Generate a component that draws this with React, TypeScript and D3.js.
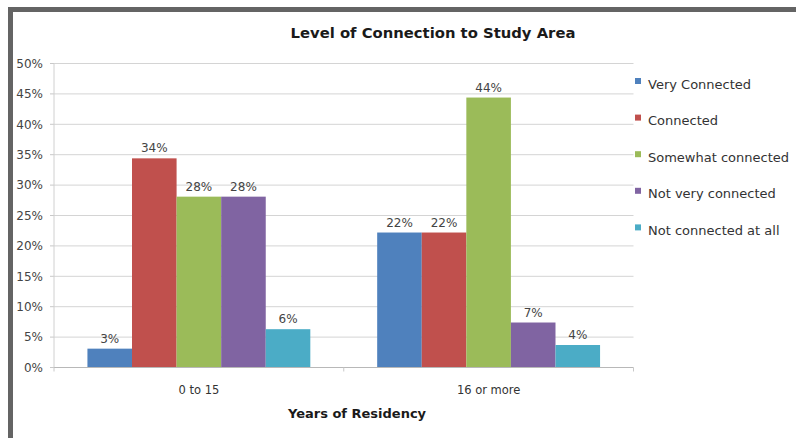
import React from "react";
import * as d3 from "d3";

const categories = ["0 to 15", "16 or more"];
const seriesNames = [
  "Very Connected",
  "Connected",
  "Somewhat connected",
  "Not very connected",
  "Not connected at all",
];
// share of respondents per series, one array per category
const values0to15 = [0.031, 0.344, 0.281, 0.281, 0.063];
const values16plus = [0.222, 0.222, 0.444, 0.074, 0.037];
const seriesColors = ["#4F81BD", "#C0504D", "#9BBB59", "#8064A2", "#4BACC6"];
const yTicks = [0, 0.05, 0.1, 0.15, 0.2, 0.25, 0.3, 0.35, 0.4, 0.45, 0.5];

const W = 796;
const H = 438;
const FONT = "'DejaVu Sans', sans-serif";

export default function App() {
  const table = [values0to15, values16plus];
  const plot = { left: 54, right: 633.5, top: 63.5, bottom: 367.5 };

  const x0 = d3
    .scaleBand<string>()
    .domain(categories)
    .range([plot.left, plot.right])
    .paddingInner(0)
    .paddingOuter(0);
  const x1 = d3
    .scaleBand<string>()
    .domain(seriesNames)
    .range([0, x0.bandwidth()])
    .paddingInner(0)
    .paddingOuter(0.75);
  const y = d3.scaleLinear().domain([0, 0.5]).range([plot.bottom, plot.top]);
  const pct = d3.format(".0%");

  const legendX = 635;
  const legendY0 = 84;
  const legendStep = 36.6;

  return (
    <svg
      width={W}
      height={H}
      style={{ position: "absolute", left: 0, top: 0, background: "#fff" }}
      fontFamily={FONT}
    >
      {/* frame */}
      <rect x={8} y={7} width={W - 8} height={5} fill="#646464" />
      <rect x={8} y={7} width={5} height={H - 7} fill="#646464" />

      <text
        x={433}
        y={38}
        textAnchor="middle"
        fontSize={14.8}
        fontWeight="bold"
        fill="#1a1a1a"
      >
        Level of Connection to Study Area
      </text>

      {/* gridlines and y axis */}
      {yTicks.map((t) => (
        <g key={t}>
          {t > 0 && (
            <line
              x1={plot.left}
              x2={plot.right}
              y1={y(t)}
              y2={y(t)}
              stroke="#d4d4d4"
              strokeWidth={1}
            />
          )}
          <line
            x1={plot.left - 4}
            x2={plot.left}
            y1={y(t)}
            y2={y(t)}
            stroke="#c8c8c8"
          />
          <text
            x={43}
            y={y(t)}
            dy="0.35em"
            textAnchor="end"
            fontSize={12}
            fill="#444"
          >
            {pct(t)}
          </text>
        </g>
      ))}
      <line
        x1={plot.left}
        x2={plot.left}
        y1={plot.top}
        y2={plot.bottom}
        stroke="#d0d0d0"
      />

      {/* bars */}
      {categories.map((c, ci) =>
        seriesNames.map((s, si) => {
          const v = table[ci][si];
          const bx = (x0(c) ?? 0) + (x1(s) ?? 0);
          return (
            <g key={c + s}>
              <rect
                x={bx}
                y={y(v)}
                width={x1.bandwidth()}
                height={plot.bottom - y(v)}
                fill={seriesColors[si]}
              />
              <text
                x={bx + x1.bandwidth() / 2}
                y={y(v) - 6}
                textAnchor="middle"
                fontSize={12}
                fill="#444"
              >
                {pct(v)}
              </text>
            </g>
          );
        })
      )}

      {/* x axis */}
      <line
        x1={plot.left}
        x2={plot.right}
        y1={plot.bottom}
        y2={plot.bottom}
        stroke="#b8b8b8"
      />
      {[plot.left, ...categories.map((c) => (x0(c) ?? 0) + x0.bandwidth())].map(
        (tx, i) => (
          <line
            key={i}
            x1={tx}
            x2={tx}
            y1={plot.bottom}
            y2={plot.bottom + 4}
            stroke="#c8c8c8"
          />
        )
      )}
      {categories.map((c) => (
        <text
          key={c}
          x={(x0(c) ?? 0) + x0.bandwidth() / 2}
          y={394}
          textAnchor="middle"
          fontSize={11.5}
          fill="#333"
        >
          {c}
        </text>
      ))}
      <text
        x={357}
        y={418}
        textAnchor="middle"
        fontSize={13}
        fontWeight="bold"
        fill="#1a1a1a"
      >
        Years of Residency
      </text>

      {/* legend */}
      {seriesNames.map((s, i) => (
        <g key={s} transform={`translate(${legendX},${legendY0 + i * legendStep})`}>
          <rect x={0} y={-6} width={6} height={6} fill={seriesColors[i]} />
          <text x={13} y={0} dy="0.35em" fontSize={13} fill="#333">
            {s}
          </text>
        </g>
      ))}
    </svg>
  );
}
